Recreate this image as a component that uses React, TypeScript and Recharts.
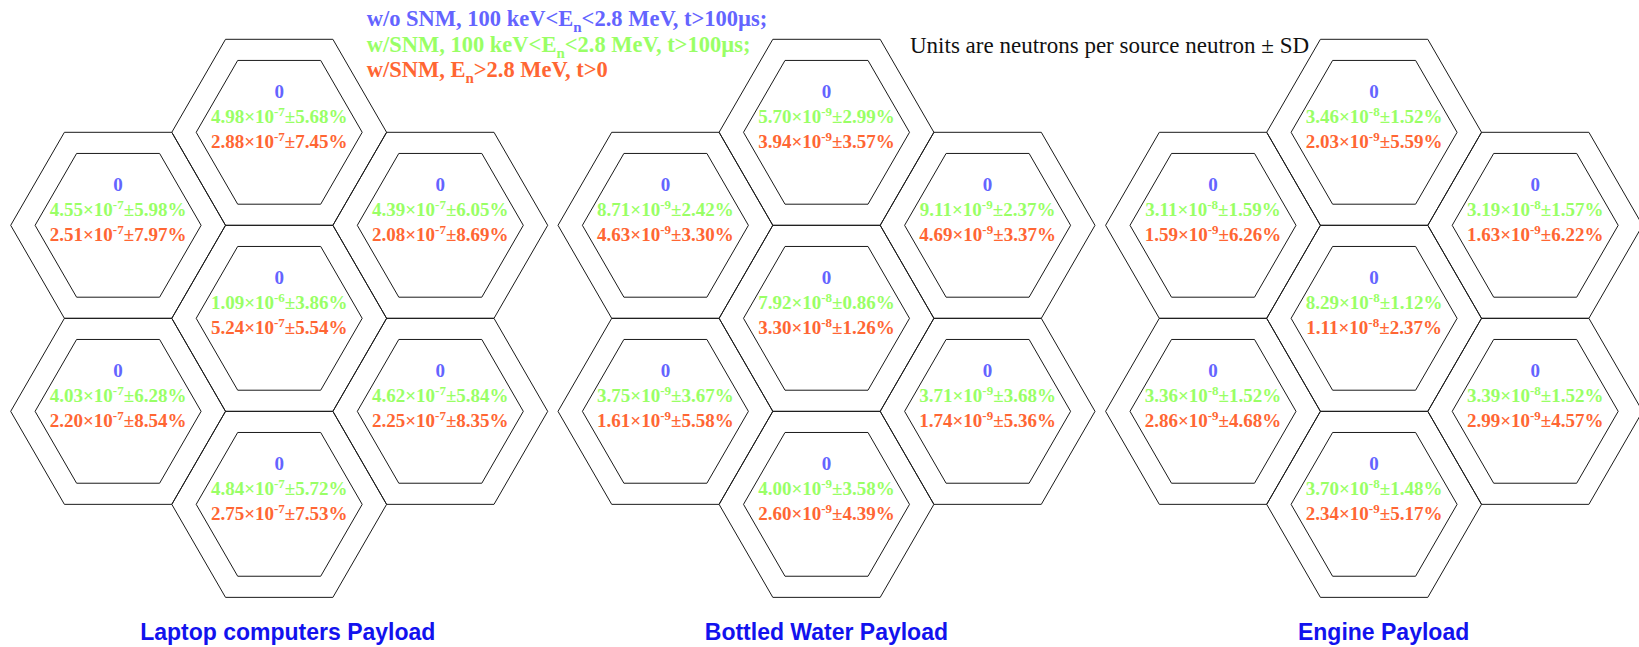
import React from "react";
import { ScatterChart, Scatter, XAxis, YAxis } from "recharts";

const CHART_W = 1639;
const CHART_H = 647;

// ---- categories / layout ----
const payloadNames = ["Laptop computers Payload", "Bottled Water Payload", "Engine Payload"];
const groupCenterX = [279.2, 826.5, 1374.1];
const titleCenterX = [287.8, 826.4, 1383.6];
const titleBaselineY = [639.5, 639.5, 639.5];

// cell order: top, upper-left, upper-right, centre, lower-left, lower-right, bottom
const cellCol = [0, -1, 1, 0, -1, 1, 0];
const cellRow = [0, 1, 1, 2, 3, 3, 4];

// ---- series values ----
// w/o SNM, 100 keV<En<2.8 MeV, t>100us
const laptopNoSnm = [0, 0, 0, 0, 0, 0, 0];
const waterNoSnm = [0, 0, 0, 0, 0, 0, 0];
const engineNoSnm = [0, 0, 0, 0, 0, 0, 0];

// w/SNM, 100 keV<En<2.8 MeV, t>100us
const laptopLow = [4.98e-7, 4.55e-7, 4.39e-7, 1.09e-6, 4.03e-7, 4.62e-7, 4.84e-7];
const laptopLowErr = [5.68, 5.98, 6.05, 3.86, 6.28, 5.84, 5.72];
const waterLow = [5.7e-9, 8.71e-9, 9.11e-9, 7.92e-8, 3.75e-9, 3.71e-9, 4.0e-9];
const waterLowErr = [2.99, 2.42, 2.37, 0.86, 3.67, 3.68, 3.58];
const engineLow = [3.46e-8, 3.11e-8, 3.19e-8, 8.29e-8, 3.36e-8, 3.39e-8, 3.7e-8];
const engineLowErr = [1.52, 1.59, 1.57, 1.12, 1.52, 1.52, 1.48];

// w/SNM, En>2.8 MeV, t>0
const laptopHigh = [2.88e-7, 2.51e-7, 2.08e-7, 5.24e-7, 2.2e-7, 2.25e-7, 2.75e-7];
const laptopHighErr = [7.45, 7.97, 8.69, 5.54, 8.54, 8.35, 7.53];
const waterHigh = [3.94e-9, 4.63e-9, 4.69e-9, 3.3e-8, 1.61e-9, 1.74e-9, 2.6e-9];
const waterHighErr = [3.57, 3.3, 3.37, 1.26, 5.58, 5.36, 4.39];
const engineHigh = [2.03e-9, 1.59e-9, 1.63e-9, 1.11e-8, 2.86e-9, 2.99e-9, 2.34e-9];
const engineHighErr = [5.59, 6.26, 6.22, 2.37, 4.68, 4.57, 5.17];

// ---- legend / note texts ----
const legendLines = [
  { pre: "w/o SNM, 100 keV<E", sub: "n", post: "<2.8 MeV, t>100\u00b5s;" },
  { pre: "w/SNM, 100 keV<E", sub: "n", post: "<2.8 MeV, t>100\u00b5s;" },
  { pre: "w/SNM, E", sub: "n", post: ">2.8 MeV, t>0" },
];
const legendX = [366.7, 366.7, 366.7];
const legendBaseline = [26, 51.7, 77.3];
const noteText = "Units are neutrons per source neutron \u00b1 SD";
const noteX = 910;
const noteBaseline = 53.3;

// ---- styles ----
const BLUE = "#6464ff";
const GREEN = "#99ff66";
const ORANGE = "#ff6633";
const TITLE_BLUE = "#1212ee";
const SERIF = "'Liberation Serif', 'Times New Roman', serif";
const SANS = "'Liberation Sans', Arial, sans-serif";
const R_OUT = 107.4;
const R_IN = 83;
const TOP_Y = 39.3;
const COL_STEP = 1.5 * R_OUT;
const ROW_STEP = (R_OUT * Math.sqrt(3)) / 2;

const noSnmAll = [laptopNoSnm, waterNoSnm, engineNoSnm];
const lowAll = [laptopLow, waterLow, engineLow];
const lowErrAll = [laptopLowErr, waterLowErr, engineLowErr];
const highAll = [laptopHigh, waterHigh, engineHigh];
const highErrAll = [laptopHighErr, waterHighErr, engineHighErr];

const cells = payloadNames.flatMap((_, g) =>
  cellCol.map((c, i) => ({
    x: groupCenterX[g] + c * COL_STEP,
    y: TOP_Y + (cellRow[i] + 1) * ROW_STEP,
    blue: noSnmAll[g][i],
    low: lowAll[g][i],
    lowErr: lowErrAll[g][i],
    high: highAll[g][i],
    highErr: highErrAll[g][i],
  }))
);

const titles = payloadNames.map((name, g) => ({ x: titleCenterX[g], y: titleBaselineY[g], name }));
const legendData = legendLines.map((l, i) => ({ x: legendX[i], y: legendBaseline[i], ...l, color: [BLUE, GREEN, ORANGE][i] }));
const noteData = [{ x: noteX, y: noteBaseline, text: noteText }];

function hexPoints(cx: number, cy: number, r: number) {
  const h = (r * Math.sqrt(3)) / 2;
  return [
    [cx - r, cy],
    [cx - r / 2, cy - h],
    [cx + r / 2, cy - h],
    [cx + r, cy],
    [cx + r / 2, cy + h],
    [cx - r / 2, cy + h],
  ]
    .map((p) => p.join(","))
    .join(" ");
}

function SciText({ x, y, v, err, color }: any) {
  const [m, e] = v.toExponential(2).split("e");
  const exp = String(parseInt(e, 10));
  return (
    <text x={x} y={y} textAnchor="middle" fill={color} fontFamily={SERIF} fontWeight="bold" fontSize={19}>
      {m}
      {"\u00d7"}10
      <tspan dy={-7} fontSize={13}>
        {exp}
      </tspan>
      <tspan dy={7}>
        {"\u00b1"}
        {err.toFixed(2)}%
      </tspan>
    </text>
  );
}

function HexShape(props: any) {
  const { cx, cy, payload } = props;
  if (cx == null || cy == null) return <g />;
  return (
    <g>
      <polygon points={hexPoints(cx, cy, R_OUT)} fill="none" stroke="#1a1a1a" strokeWidth={1} />
      <polygon points={hexPoints(cx, cy, R_IN)} fill="none" stroke="#1a1a1a" strokeWidth={1} />
      <text x={cx} y={cy - 34.6} textAnchor="middle" fill={BLUE} fontFamily={SERIF} fontWeight="bold" fontSize={19}>
        {payload.blue}
      </text>
      <SciText x={cx} y={cy - 9} v={payload.low} err={payload.lowErr} color={GREEN} />
      <SciText x={cx} y={cy + 16} v={payload.high} err={payload.highErr} color={ORANGE} />
    </g>
  );
}

function TitleShape(props: any) {
  const { cx, cy, payload } = props;
  return (
    <text x={cx} y={cy} textAnchor="middle" fill={TITLE_BLUE} fontFamily={SANS} fontWeight="bold" fontSize={23}>
      {payload.name}
    </text>
  );
}

function LegendShape(props: any) {
  const { cx, cy, payload } = props;
  return (
    <text x={cx} y={cy} textAnchor="start" fill={payload.color} fontFamily={SERIF} fontWeight="bold" fontSize={22.5}>
      {payload.pre}
      <tspan dy={6} fontSize={15}>
        {payload.sub}
      </tspan>
      <tspan dy={-6}>{payload.post}</tspan>
    </text>
  );
}

function NoteShape(props: any) {
  const { cx, cy, payload } = props;
  return (
    <text x={cx} y={cy} textAnchor="start" fill="#111" fontFamily={SERIF} fontSize={23}>
      {payload.text}
    </text>
  );
}

export default function App() {
  return (
    <div style={{ position: "absolute", left: 0, top: 0, width: CHART_W, height: CHART_H, background: "#fff", overflow: "hidden" }}>
      <ScatterChart width={CHART_W} height={CHART_H} margin={{ top: 0, right: 0, bottom: 0, left: 0 }}>
        <XAxis type="number" dataKey="x" domain={[0, CHART_W]} hide height={0} />
        <YAxis type="number" dataKey="y" domain={[0, CHART_H]} reversed hide width={0} />
        <Scatter data={cells} shape={HexShape} isAnimationActive={false} />
        <Scatter data={titles} shape={TitleShape} isAnimationActive={false} />
        <Scatter data={legendData} shape={LegendShape} isAnimationActive={false} />
        <Scatter data={noteData} shape={NoteShape} isAnimationActive={false} />
      </ScatterChart>
    </div>
  );
}
